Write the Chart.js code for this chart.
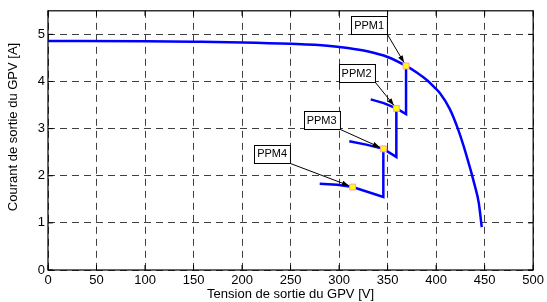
<!DOCTYPE html>
<html>
<head>
<meta charset="utf-8">
<script src="https://cdn.jsdelivr.net/npm/chart.js@4/dist/chart.umd.min.js"></script>
<style>
  html,body{margin:0;padding:0;background:#fff;}
  #wrap{width:547px;height:302px;position:relative;}
</style>
</head>
<body>
<div id="wrap"><canvas id="c"></canvas></div>
<script>
// courbe I-V principale du GPV
const mainV=[0,100,150,200,250,288,309,329,350,369,380,391,398,404,414,422,431,440,444,447];
const mainI=[4.86,4.855,4.845,4.83,4.80,4.76,4.71,4.64,4.52,4.33,4.19,4.02,3.88,3.75,3.42,3.02,2.45,1.78,1.42,0.91];
// branches partielles (ombrage) : dernier point = retour vertical vers le PPM précédent
const br2V=[332.6,346,359,369,369];
const br2I=[3.62,3.54,3.43,3.31,4.33];
const br3V=[310.5,328,345.6,359,359];
const br3I=[2.73,2.66,2.57,2.40,3.43];
const br4V=[280,298,314,345.6,345.6];
const br4I=[1.83,1.81,1.76,1.55,2.57];
// points de puissance maximale
const ppmV=[369,359,345.6,314];
const ppmI=[4.33,3.43,2.57,1.76];
const ppmLbl=['PPM1','PPM2','PPM3','PPM4'];
// centre des étiquettes (en unités des axes)
const lblV=[331,318,282,231];
const lblI=[5.19,4.18,3.18,2.47];

const xTitle='Tension de sortie du GPV [V]';
const yTitle='Courant de sortie du GPV [A]';

const pts=(v,i)=>v.map((x,k)=>({x:x,y:i[k]}));
const FONT='"Liberation Sans", Arial, Helvetica, sans-serif';
const blue='#0000ff';
const lineDs=(data,mono)=>({type:'line',data:data,borderColor:blue,borderWidth:2.5,
  pointRadius:0,fill:false,tension:mono?0.4:0,cubicInterpolationMode:mono?'monotone':'default'});

// cadre, petites graduations, étiquettes + flèches, titre Y
const deco={
  id:'deco',
  afterDatasetsDraw(chart){
    const {ctx,chartArea:a,scales:{x,y}}=chart;
    ctx.save();
    // cadre
    ctx.strokeStyle='#000';ctx.lineWidth=1.2;ctx.setLineDash([]);
    ctx.strokeRect(a.left,a.top,a.right-a.left,a.bottom-a.top);
    // graduations internes
    ctx.lineWidth=1;ctx.beginPath();
    x.ticks.forEach(t=>{const p=x.getPixelForValue(t.value);
      ctx.moveTo(p,a.bottom);ctx.lineTo(p,a.bottom-5);ctx.moveTo(p,a.top);ctx.lineTo(p,a.top+5);});
    y.ticks.forEach(t=>{const p=y.getPixelForValue(t.value);
      ctx.moveTo(a.left,p);ctx.lineTo(a.left+5,p);ctx.moveTo(a.right,p);ctx.lineTo(a.right-5,p);});
    ctx.stroke();
    // étiquettes PPM
    ctx.font='11px '+FONT;ctx.textAlign='center';ctx.textBaseline='middle';
    ppmLbl.forEach((s,k)=>{
      const cx=x.getPixelForValue(lblV[k]),cy=y.getPixelForValue(lblI[k]);
      const w=ctx.measureText(s).width+6,h=18;
      const l=Math.round(cx-w/2)+0.5,t=Math.round(cy-h/2)+0.5;
      ctx.fillStyle='#fff';ctx.fillRect(l,t,w,h);
      ctx.strokeStyle='#000';ctx.lineWidth=1;ctx.strokeRect(l,t,w,h);
      ctx.fillStyle='#000';ctx.fillText(s,cx,cy+0.5);
      // flèche
      const x0=l+w,y0=t+h;
      const px=x.getPixelForValue(ppmV[k]),py=y.getPixelForValue(ppmI[k]);
      const ang=Math.atan2(py-y0,px-x0);
      const x1=px-4*Math.cos(ang),y1=py-4*Math.sin(ang);
      ctx.beginPath();ctx.moveTo(x0,y0);ctx.lineTo(x1,y1);ctx.stroke();
      const L=7,W=2.6;
      ctx.beginPath();ctx.moveTo(x1,y1);
      ctx.lineTo(x1-L*Math.cos(ang)+W*Math.sin(ang),y1-L*Math.sin(ang)-W*Math.cos(ang));
      ctx.lineTo(x1-L*Math.cos(ang)-W*Math.sin(ang),y1-L*Math.sin(ang)+W*Math.cos(ang));
      ctx.closePath();ctx.fill();
    });
    // titre Y
    ctx.font='13px '+FONT;
    ctx.translate(13,127);ctx.rotate(-Math.PI/2);
    ctx.fillText(yTitle,0,0);
    ctx.restore();
  }
};

new Chart(document.getElementById('c'),{
  type:'scatter',
  data:{datasets:[
    {type:'scatter',data:pts(ppmV,ppmI),pointStyle:'rect',pointRadius:4.2,
      backgroundColor:'#ffff00',borderColor:'#ff9fb0',borderWidth:1},
    lineDs(pts(mainV,mainI),true),
    lineDs(pts(br2V,br2I),false),
    lineDs(pts(br3V,br3I),false),
    lineDs(pts(br4V,br4I),false)
  ]},
  options:{
    responsive:true,maintainAspectRatio:false,animation:false,
    layout:{padding:{left:0,right:10,top:7,bottom:0}},
    plugins:{legend:{display:false},tooltip:{enabled:false}},
    scales:{
      x:{type:'linear',min:0,max:500,
        ticks:{stepSize:50,color:'#000',font:{family:FONT,size:13},padding:3,maxRotation:0},
        grid:{color:'rgba(0,0,0,0.75)',lineWidth:1,drawTicks:false},
        border:{display:false,dash:[7,5]},
        title:{display:true,text:xTitle,color:'#000',font:{family:FONT,size:13},padding:{top:0,bottom:0}},
        afterFit:s=>{s.height=32;}},
      y:{type:'linear',min:0,max:5.5,
        ticks:{stepSize:1,color:'#000',font:{family:FONT,size:13},padding:3},
        grid:{color:'rgba(0,0,0,0.75)',lineWidth:1,drawTicks:false},
        border:{display:false,dash:[7,5]},
        afterBuildTicks:s=>{s.ticks=s.ticks.filter(t=>Number.isInteger(t.value));},
        afterFit:s=>{s.width=48;}}
    }
  },
  plugins:[deco]
});
</script>
</body>
</html>
